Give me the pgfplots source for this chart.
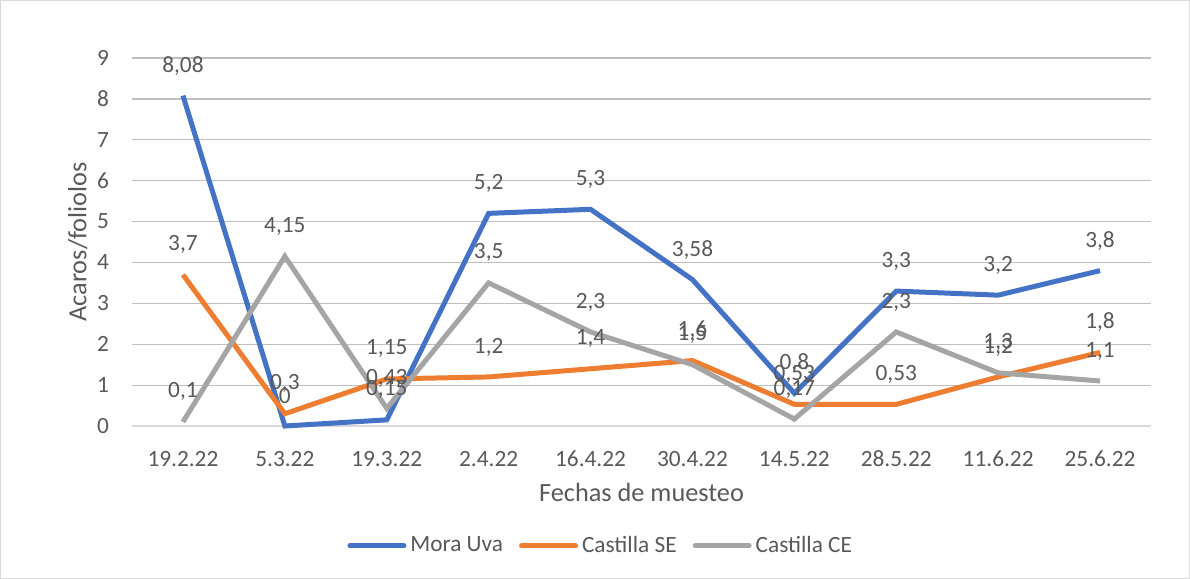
\documentclass[border=0pt]{standalone}
\usepackage{pgfplots}
\pgfplotsset{compat=1.18}
\usepackage{fontspec}
\setmainfont{Carlito}
\definecolor{cblue}{HTML}{4472C4}
\definecolor{corange}{HTML}{ED7D31}
\definecolor{cgray}{HTML}{A5A5A5}
\definecolor{txt}{HTML}{595959}
\definecolor{grid}{HTML}{D9D9D9}
\begin{document}
\begin{tikzpicture}
\useasboundingbox (0,0) rectangle (595bp,289.5bp);
\draw[grid,line width=0.5bp] (0.25bp,0.25bp) rectangle (594.75bp,289.25bp);
\begin{axis}[
  at={(66bp,76.5bp)}, anchor=south west,
  scale only axis, width=509.5bp, height=184bp,
  xmin=-0.5, xmax=9.5, ymin=0, ymax=9,
  xtick={0,...,9},
  xticklabels={19.2.22,5.3.22,19.3.22,2.4.22,16.4.22,30.4.22,14.5.22,28.5.22,11.6.22,25.6.22},
  ytick={0,...,9},
  ymajorgrids=true, xmajorgrids=false, grid style={grid,line width=0.6bp},
  axis x line*=bottom, axis y line*=left,
  x axis line style={grid,line width=0.6bp},
  y axis line style={draw=none},
  major tick length=0pt,
  tick label style={font=\fontsize{11.7}{14}\selectfont, text=txt},
  xticklabel style={yshift=-9bp},
  yticklabel style={xshift=-8bp},
  /pgf/number format/assume math mode=true,
  /pgf/number format/use comma,
  xlabel={Fechas de muesteo}, ylabel={Acaros/foliolos},
  label style={font=\fontsize{13.2}{15}\selectfont, text=txt},
  xlabel style={yshift=-1bp},
  ylabel style={yshift=-2bp},
  nodes near coords,
  every node near coord/.append style={anchor=center, yshift=15bp, font=\fontsize{11.7}{14}\selectfont, text=txt, /pgf/number format/assume math mode=true, /pgf/number format/use comma},
  legend columns=3,
  legend style={at={(0.461,-0.326)}, anchor=center, draw=none, fill=none,
    font=\fontsize{11.7}{14}\selectfont, text=txt,
    /tikz/every even column/.append style={column sep=6bp}},
  legend image code/.code={\draw[#1,line width=2.5bp,line cap=round] (0bp,0bp) -- (27bp,0bp);},
  every axis plot/.append style={line width=2.5bp, mark=none},
  clip=false,
]
\addplot[cblue] coordinates {(0,8.08) (1,0) (2,0.15) (3,5.2) (4,5.3) (5,3.58) (6,0.8) (7,3.3) (8,3.2) (9,3.8)};
\addplot[corange] coordinates {(0,3.7) (1,0.3) (2,1.15) (3,1.2) (4,1.4) (5,1.6) (6,0.53) (7,0.53) (8,1.2) (9,1.8)};
\addplot[cgray] coordinates {(0,0.1) (1,4.15) (2,0.43) (3,3.5) (4,2.3) (5,1.5) (6,0.17) (7,2.3) (8,1.3) (9,1.1)};
\legend{Mora Uva,Castilla SE,Castilla CE}
\end{axis}
\end{tikzpicture}
\end{document}
